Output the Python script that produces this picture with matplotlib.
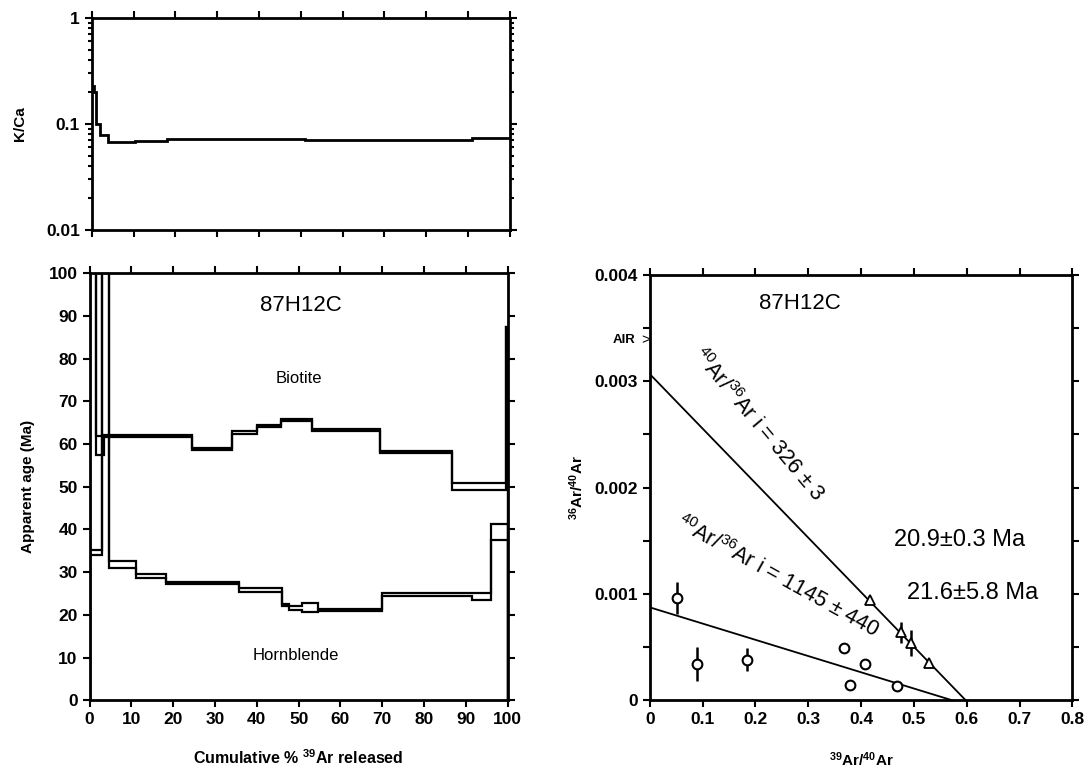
import numpy as np
import matplotlib
matplotlib.use("Agg")
import matplotlib.pyplot as plt
from matplotlib.ticker import MultipleLocator, LogLocator, NullFormatter, FixedLocator, FixedFormatter

plt.rcParams['font.family'] = ['Liberation Sans', 'DejaVu Sans']
plt.rcParams['mathtext.fontset'] = 'custom'
plt.rcParams['mathtext.rm'] = 'Liberation Sans'
plt.rcParams['mathtext.it'] = 'Liberation Sans:italic'
plt.rcParams['mathtext.bf'] = 'Liberation Sans:bold'
plt.rcParams['mathtext.default'] = 'regular'

# K/Ca step spectrum
kca_edges = [0, 0.6, 1.0, 2.0, 4.0, 10.4, 18.0, 51.0, 91.0, 100]
kca = [0.23, 0.20, 0.10, 0.078, 0.067, 0.069, 0.072, 0.071, 0.073]

# biotite age spectrum (lower / upper edge of each step box, Ma)
bio_edges = [0, 1.5, 3.5, 24.6, 34.1, 40.0, 45.8, 53.2, 69.4, 86.6, 99.6, 100]
bio_lo = [150, 57.5, 61.6, 58.6, 62.4, 64.1, 65.5, 63.0, 57.9, 49.2, 87.5]
bio_hi = [150, 61.8, 62.2, 59.1, 63.0, 64.5, 65.9, 63.6, 58.3, 50.9, 87.5]

# hornblende age spectrum
hbl_edges = [0, 3.0, 4.6, 11.0, 18.2, 35.8, 45.9, 47.8, 50.8, 54.6, 70.0, 91.4, 96.0, 100]
hbl_lo = [33.9, 150, 31.0, 28.6, 27.3, 25.3, 22.0, 21.2, 20.6, 21.0, 24.3, 23.5, 37.6]
hbl_hi = [35.3, 150, 32.5, 29.6, 27.8, 26.3, 22.6, 22.1, 22.7, 21.4, 25.1, 25.1, 41.2]

# isochron points
circ_x = [0.051, 0.089, 0.185, 0.367, 0.379, 0.408, 0.469]
circ_y = [0.00096, 0.00034, 0.00038, 0.00049, 0.00014, 0.00034, 0.00013]
circ_err = [0.00015, 0.00016, 0.00011, 0, 0, 0, 0]
tri_x = [0.417, 0.476, 0.494, 0.528]
tri_y = [0.00094, 0.00064, 0.00054, 0.00035]
tri_err = [0, 0.0001, 0.00012, 0]

# isochron lines: y intercept (1/initial ratio) and x intercept
iso_yint = [1 / 326, 1 / 1145]
iso_xint = [0.598, 0.572]
air_ratio = 1 / 295.5

iso_xticks = [0, 0.1, 0.2, 0.3, 0.4, 0.5, 0.6, 0.7, 0.8]
iso_xlabels = ['0', '0.1', '0.2', '0.3', '0.4', '0.5', '0.6', '0.7', '0.8']
iso_yticks = [0, 0.001, 0.002, 0.003, 0.004]
iso_ylabels = ['0', '0.001', '0.002', '0.003', '0.004']

fig = plt.figure(figsize=(10.92, 7.72), dpi=100)
ax1 = fig.add_axes([0.084, 0.702, 0.383, 0.275])
ax2 = fig.add_axes([0.082, 0.093, 0.383, 0.553])
ax3 = fig.add_axes([0.595, 0.093, 0.387, 0.551])

tick_kw = dict(direction='out', length=5, width=1.5, labelsize=12.5,
               top=True, right=True)


def style(ax):
    for s in ax.spines.values():
        s.set_linewidth(2)
    ax.tick_params(which='both', **tick_kw)
    for lab in ax.get_xticklabels() + ax.get_yticklabels():
        lab.set_fontweight('bold')


# --- K/Ca ---
ax1.stairs(kca, kca_edges, baseline=None, color='k', lw=2)
ax1.set_yscale('log')
ax1.set_xlim(0, 100)
ax1.set_ylim(0.01, 1)
ax1.xaxis.set_major_locator(MultipleLocator(10))
ax1.set_xticklabels([])
ax1.yaxis.set_major_locator(FixedLocator([0.01, 0.1, 1]))
ax1.yaxis.set_major_formatter(FixedFormatter(['0.01', '0.1', '1']))
ax1.yaxis.set_minor_locator(LogLocator(base=10, subs=np.arange(2, 10)))
ax1.yaxis.set_minor_formatter(NullFormatter())
style(ax1)
ax1.tick_params(which='minor', length=3)
ax1.set_ylabel('K/Ca', fontsize=11, fontweight='bold', labelpad=14)

# --- age spectra ---
for edges, lo, hi in [(bio_edges, bio_lo, bio_hi), (hbl_edges, hbl_lo, hbl_hi)]:
    ax2.stairs(lo, edges, baseline=0, color='k', lw=1.6)
    ax2.stairs(hi, edges, baseline=0, color='k', lw=1.6)
ax2.set_xlim(0, 100)
ax2.set_ylim(0, 100)
ax2.xaxis.set_major_locator(MultipleLocator(10))
ax2.yaxis.set_major_locator(MultipleLocator(10))
style(ax2)
ax2.set_ylabel('Apparent age (Ma)', fontsize=11, fontweight='bold', labelpad=10)
ax2.set_xlabel('Cumulative % $^{39}$Ar released', fontsize=11.5, fontweight='bold', labelpad=15)
ax2.text(50.5, 92.5, '87H12C', fontsize=16, ha='center', va='center')
ax2.text(50, 75.4, 'Biotite', fontsize=12, ha='center', va='center')
ax2.text(49.4, 10.5, 'Hornblende', fontsize=12, ha='center', va='center')

# --- isochron ---
for yi, xi in zip(iso_yint, iso_xint):
    ax3.plot([0, xi], [yi, 0], color='k', lw=1.3)
ax3.errorbar(circ_x, circ_y, yerr=circ_err, fmt='o', mfc='white', mec='k', ms=7,
             mew=1.5, ecolor='k', elinewidth=1.8, capsize=0, zorder=3)
ax3.errorbar(tri_x, tri_y, yerr=tri_err, fmt='^', mfc='white', mec='k', ms=7,
             mew=1.3, ecolor='k', elinewidth=1.8, capsize=0, zorder=3)
ax3.set_xlim(0, 0.8)
ax3.set_ylim(0, 0.004)
ax3.xaxis.set_major_locator(FixedLocator(iso_xticks))
ax3.xaxis.set_major_formatter(FixedFormatter(iso_xlabels))
ax3.yaxis.set_major_locator(FixedLocator(iso_yticks))
ax3.yaxis.set_major_formatter(FixedFormatter(iso_ylabels))
ax3.yaxis.set_minor_locator(MultipleLocator(0.0005))
style(ax3)
ax3.set_ylabel('$^{36}$Ar/$^{40}$Ar', fontsize=11, fontweight='bold', labelpad=6)
ax3.set_xlabel('$^{39}$Ar/$^{40}$Ar', fontsize=11, fontweight='bold', labelpad=17)
ax3.text(0.285, 0.00373, '87H12C', fontsize=16, ha='center', va='center')
ax3.text(0.586, 0.00151, '20.9±0.3 Ma', fontsize=17, ha='center', va='center')
ax3.text(0.611, 0.00101, '21.6±5.8 Ma', fontsize=17, ha='center', va='center')
ax3.text(-0.028, air_ratio, 'AIR', fontsize=9.5, fontweight='bold', ha='right', va='center')
ax3.text(0.0, air_ratio, '>', fontsize=11, ha='right', va='center')
ax3.text(0.206, 0.00259, '$^{40}$Ar/$^{36}$Ar i = 326 ± 3', fontsize=15.5,
         rotation=-50, ha='center', va='center', rotation_mode='anchor')
ax3.text(0.242, 0.00116, '$^{40}$Ar/$^{36}$Ar i = 1145 ± 440', fontsize=15.5,
         rotation=-29, ha='center', va='center', rotation_mode='anchor')

fig.savefig('out.png', dpi=100)
